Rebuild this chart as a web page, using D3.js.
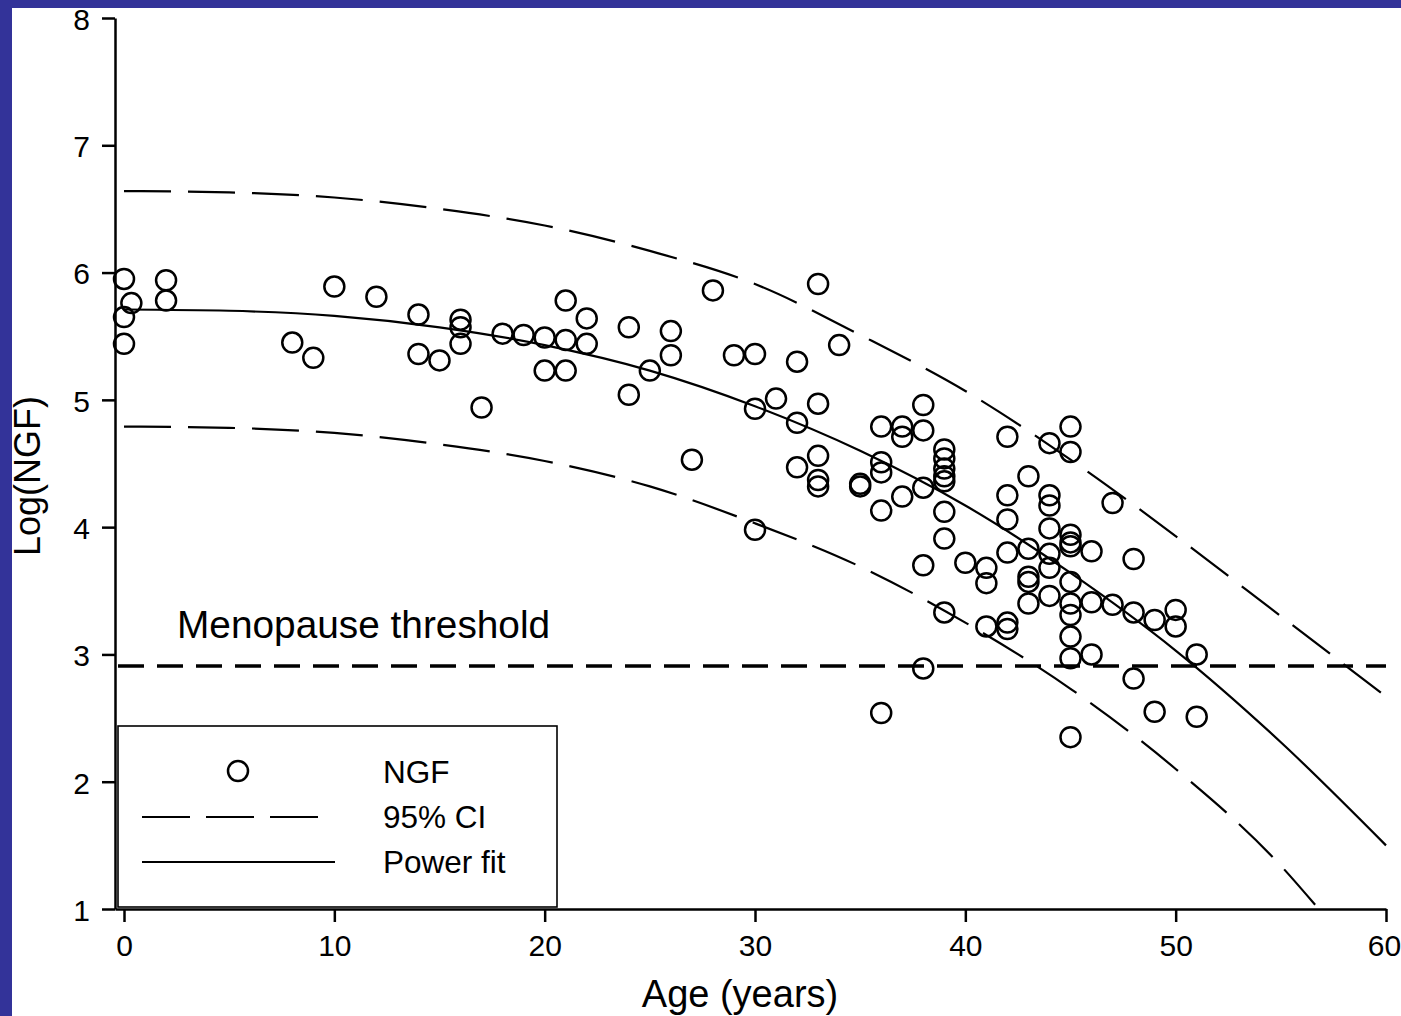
<!DOCTYPE html>
<html>
<head>
<meta charset="utf-8">
<script src="https://cdn.jsdelivr.net/npm/d3@7"></script>
<style>
  html, body { margin: 0; padding: 0; background: #333399; }
  svg { display: block; }
  text { font-family: "Liberation Sans", Arial, Helvetica, sans-serif; fill: #000; }
</style>
</head>
<body>
<svg id="chart" width="1401" height="1016"></svg>
<script>
// ---------- data ----------
const ngfAge = [
  0, 0.35, 0, 0,
  2, 2,
  8, 9, 10, 12,
  14, 14, 15,
  16, 16, 16, 17, 18, 19,
  20, 20, 21, 21, 21, 22, 22,
  24, 24, 25, 26, 26, 27, 28, 29,
  30, 30, 30, 31, 32, 32, 32,
  33, 33, 33, 33, 33, 34, 35, 35,
  36, 36, 36, 36, 36,
  37, 37, 37,
  38, 38, 38, 38, 38,
  39, 39, 39, 39, 39, 39, 39, 39,
  40, 41, 41, 41,
  42, 42, 42, 42, 42, 42,
  43, 43, 43, 43, 43,
  44, 44, 44, 44, 44, 44, 44,
  45, 45, 45, 45, 45, 45, 45, 45, 45, 45, 45,
  46, 46, 46, 47, 47,
  48, 48, 48, 49, 49, 50, 50, 51, 51
];
const ngfValue = [
  5.95, 5.76, 5.65, 5.44,
  5.94, 5.78,
  5.45, 5.33, 5.89, 5.81,
  5.67, 5.36, 5.31,
  5.63, 5.57, 5.44, 4.94, 5.52, 5.51,
  5.49, 5.23, 5.78, 5.47, 5.23, 5.64, 5.44,
  5.57, 5.04, 5.23, 5.54, 5.35, 4.53, 5.86, 5.35,
  5.36, 4.93, 3.98, 5.01, 5.30, 4.82, 4.47,
  5.91, 4.97, 4.56, 4.37, 4.32, 5.43, 4.34, 4.32,
  4.79, 4.51, 4.43, 4.13, 2.54,
  4.79, 4.71, 4.24,
  4.96, 4.76, 4.31, 3.70, 2.89,
  4.61, 4.54, 4.46, 4.40, 4.36, 4.12, 3.91, 3.33,
  3.72, 3.68, 3.56, 3.22,
  4.71, 4.25, 4.06, 3.80, 3.25, 3.20,
  4.40, 3.83, 3.61, 3.57, 3.40,
  4.66, 4.25, 4.17, 3.99, 3.79, 3.68, 3.46,
  4.79, 4.59, 3.94, 3.88, 3.85, 3.57, 3.40, 3.31, 3.14, 2.97, 2.35,
  3.81, 3.41, 3.00, 4.19, 3.39,
  3.75, 3.33, 2.81, 3.27, 2.55, 3.35, 3.22, 3.00, 2.51
];

// fitted curve and 95% CI
const fitAge   = [0, 5, 10, 15, 20, 25, 30, 35, 40, 45, 50, 55, 60];
const fitValue = [5.71, 5.70, 5.66, 5.57, 5.43, 5.23, 4.95, 4.60, 4.17, 3.64, 3.03, 2.31, 1.50];
const ciUpperAge   = [0, 5, 10, 15, 20, 25, 30, 35, 40, 45, 50, 55, 60];
const ciUpperValue = [6.64, 6.63, 6.59, 6.50, 6.37, 6.17, 5.91, 5.51, 5.07, 4.53, 3.93, 3.30, 2.67];
const ciLowerAge   = [0, 5, 10, 15, 20, 25, 30, 35, 40, 45, 50, 55, 56.8];
const ciLowerValue = [4.79, 4.78, 4.74, 4.65, 4.52, 4.32, 4.03, 3.69, 3.25, 2.73, 2.10, 1.34, 1.00];

const thresholdValue = 2.91;
const thresholdLabel = "Menopause threshold";

const xTicks = [0, 10, 20, 30, 40, 50, 60];
const yTicks = [1, 2, 3, 4, 5, 6, 7, 8];
const xTitle = "Age (years)";
const yTitle = "Log(NGF)";
const legendLabels = ["NGF", "95% CI", "Power fit"];

// ---------- drawing ----------
const svg = d3.select("#chart");
const W = 1401, H = 1016;

// white page inside the blue frame
svg.append("rect").attr("x", 12).attr("y", 8).attr("width", W - 12).attr("height", H - 8).attr("fill", "#fff");

const x = d3.scaleLinear().domain([-0.428, 60]).range([115, 1386]);
const y = d3.scaleLinear().domain([1, 8]).range([909, 18]);

const FONT = '"Liberation Sans", Arial, Helvetica, sans-serif';

// axes
const yAxis = svg.append("g").attr("transform", "translate(115,0)")
  .call(d3.axisLeft(y).tickValues(yTicks).tickSize(13).tickSizeOuter(0).tickPadding(12).tickFormat(d3.format("d")));
const xAxis = svg.append("g").attr("transform", "translate(0,909)")
  .call(d3.axisBottom(x).tickValues(xTicks).tickSize(13).tickSizeOuter(0).tickPadding(12).tickFormat(d3.format("d")));
[xAxis, yAxis].forEach(g => {
  g.selectAll("path, line").attr("stroke", "#000").attr("stroke-width", 2.5);
  g.selectAll("text").attr("font-size", 30).attr("font-family", FONT).attr("fill", "#000");
});
yAxis.selectAll("text").attr("dy", "0.38em");
xAxis.selectAll("text").attr("dy", "0.74em");
// keep the last label inside the page edge
xAxis.selectAll(".tick text").filter(d => d === 60).attr("dx", -2);

// axis titles
svg.append("text").attr("x", 740).attr("y", 1007).attr("text-anchor", "middle")
  .attr("font-size", 38).text(xTitle);
svg.append("text").attr("transform", "translate(40,476) rotate(-90)").attr("text-anchor", "middle")
  .attr("font-size", 36).text(yTitle);

// curves
const line = d3.line().x(d => x(d[0])).y(d => y(d[1])).curve(d3.curveMonotoneX);
const zip = (a, b) => a.map((v, i) => [v, b[i]]);

svg.append("path").datum(zip(ciUpperAge, ciUpperValue)).attr("d", line)
  .attr("fill", "none").attr("stroke", "#000").attr("stroke-width", 2.2).attr("stroke-dasharray", "47,17");
svg.append("path").datum(zip(ciLowerAge, ciLowerValue)).attr("d", line)
  .attr("fill", "none").attr("stroke", "#000").attr("stroke-width", 2.2).attr("stroke-dasharray", "47,17");
svg.append("path").datum(zip(fitAge, fitValue)).attr("d", line)
  .attr("fill", "none").attr("stroke", "#000").attr("stroke-width", 2.2);

// menopause threshold
svg.append("line").attr("x1", 118).attr("x2", x(60))
  .attr("y1", y(thresholdValue)).attr("y2", y(thresholdValue))
  .attr("stroke", "#000").attr("stroke-width", 3.5).attr("stroke-dasharray", "26,13");
svg.append("text").attr("x", 177).attr("y", 638).attr("font-size", 38.8).text(thresholdLabel);

// points
svg.append("g").selectAll("circle").data(zip(ngfAge, ngfValue)).join("circle")
  .attr("cx", d => x(d[0])).attr("cy", d => y(d[1])).attr("r", 10)
  .attr("fill", "none").attr("stroke", "#000").attr("stroke-width", 2.5);

// legend
const lg = svg.append("g");
lg.append("rect").attr("x", 118).attr("y", 726).attr("width", 439).attr("height", 181)
  .attr("fill", "#fff").attr("stroke", "#000").attr("stroke-width", 1.6);
lg.append("circle").attr("cx", 238).attr("cy", 771).attr("r", 10)
  .attr("fill", "none").attr("stroke", "#000").attr("stroke-width", 2.5);
lg.append("line").attr("x1", 142).attr("x2", 318).attr("y1", 817).attr("y2", 817)
  .attr("stroke", "#000").attr("stroke-width", 2.2).attr("stroke-dasharray", "48,16");
lg.append("line").attr("x1", 142).attr("x2", 335).attr("y1", 862).attr("y2", 862)
  .attr("stroke", "#000").attr("stroke-width", 2.2);
const legendY = [783, 828, 873];
legendLabels.forEach((t, i) => {
  lg.append("text").attr("x", 383).attr("y", legendY[i]).attr("font-size", 31.5).text(t);
});
</script>
</body>
</html>
